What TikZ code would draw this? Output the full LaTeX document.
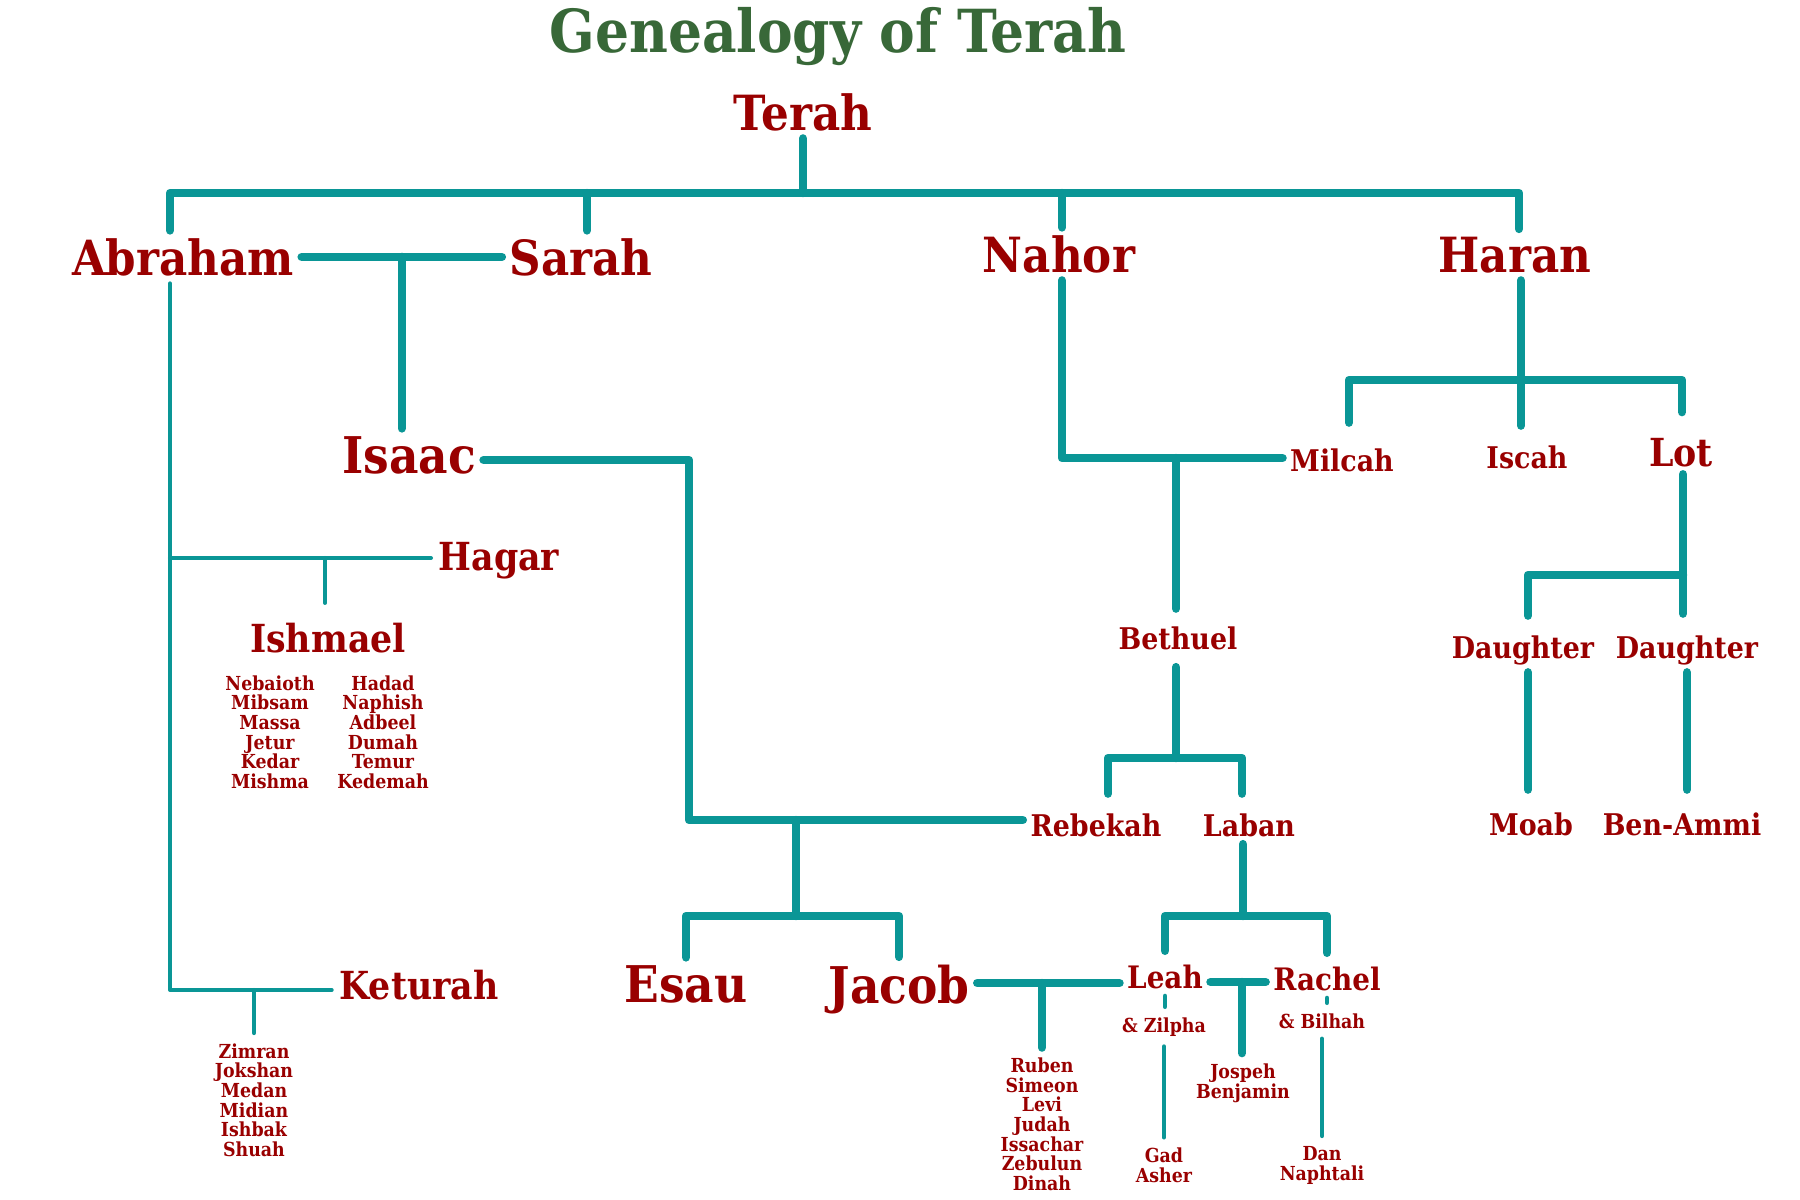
\documentclass[tikz,border=0pt]{standalone}
\usepackage{fontspec}
\newfontfamily\slabfont{DejaVu Serif}[FakeStretch=0.9]
\definecolor{treeteal}{HTML}{0A9696}
\definecolor{namered}{HTML}{990000}
\definecolor{titlegreen}{HTML}{386838}
\newcommand{\slab}[1]{\slabfont\bfseries\fontsize{#1}{1.15\dimexpr#1pt\relax}\selectfont}

\tikzset{
  who/.style={text=namered, anchor=base, inner sep=0.07cm},
  big/.style={who, font=\slab{14.4}},
  large/.style={who, font=\slab{13.8}},
  mid/.style={who, font=\slab{11}},
  kin/.style={who, font=\slab{8.5}},
  wife/.style={who, font=\slab{8.8}},
  % multi-line lists sit on the baseline of their last line
  brood/.style={who, inner sep=0.1cm, align=center,
    font=\slabfont\bfseries\fontsize{5.5}{5.55}\selectfont},
  trunk/.style={draw=treeteal, line width=2.4pt, line cap=round, line join=round},
  twig/.style={draw=treeteal, line width=1.15pt, line cap=round, line join=round},
  sprig/.style={draw=treeteal, line width=1.4pt, line cap=round, line join=round},
}

\begin{document}
\begin{tikzpicture}
  \useasboundingbox (0,0) rectangle (18,-12);

  % title and first generation
  \node[anchor=base, text=titlegreen, font=\slab{16.9}] (title) at (8.38,-0.52) {Genealogy of Terah};
  \node[large] (terah)   at (8.03,-1.30) {Terah};
  \node[large] (abraham) at (1.83,-2.75) {Abraham};
  \node[large] (sarah)   at (5.81,-2.75) {Sarah};
  \node[large] (nahor)   at (10.59,-2.72) {Nahor};
  \node[large] (haran)   at (15.15,-2.72) {Haran};

  % Abraham's line
  \node[big] (isaac)   at (4.09,-4.73) {Isaac};
  \node[mid] (hagar)   at (4.99,-5.70) {Hagar};
  \node[mid] (ishmael) at (3.28,-6.52) {Ishmael};
  \node[brood] (ishsonsa) at (2.70,-7.88) {Nebaioth\\Mibsam\\Massa\\Jetur\\Kedar\\Mishma};
  \node[brood] (ishsonsb) at (3.83,-7.88) {Hadad\\Naphish\\Adbeel\\Dumah\\Temur\\Kedemah};
  \node[mid] (keturah) at (4.19,-9.99) {Keturah};
  \node[brood] (ketsons) at (2.54,-11.56) {Zimran\\Jokshan\\Medan\\Midian\\Ishbak\\Shuah};
  \node[big] (esau)  at (6.86,-10.02) {Esau};
  \node[big] (jacob) at (8.99,-10.03) {Jacob};

  % Nahor's line
  \node[kin] (milcah)  at (13.42,-4.71) {Milcah};
  \node[kin] (bethuel) at (11.78,-6.49) {Bethuel};
  \node[kin] (rebekah) at (10.96,-8.36) {Rebekah};
  \node[kin] (laban)   at (12.49,-8.36) {Laban};
  \node[wife] (leah)   at (11.65,-9.88) {Leah};
  \node[wife] (rachel) at (13.27,-9.90) {Rachel};
  \node[brood] (leahsons) at (10.42,-11.90) {Ruben\\Simeon\\Levi\\Judah\\Issachar\\Zebulun\\Dinah};
  \node[brood] (josben)   at (12.43,-10.98) {Jospeh\\Benjamin};
  \node[brood] (zilpha)   at (11.64,-10.32) {\& Zilpha};
  \node[brood] (gadasher) at (11.64,-11.82) {Gad\\Asher};
  \node[brood] (bilhah)   at (13.22,-10.28) {\& Bilhah};
  \node[brood] (dannaph)  at (13.22,-11.80) {Dan\\Naphtali};

  % Haran's line
  \node[kin] (iscah) at (15.27,-4.68) {Iscah};
  \node[mid] (lot)   at (16.81,-4.66) {Lot};
  \node[kin] (daughtera) at (15.23,-6.58) {Daughter};
  \node[kin] (daughterb) at (16.87,-6.58) {Daughter};
  \node[kin] (moab)    at (15.31,-8.35) {Moab};
  \node[kin] (benammi) at (16.82,-8.35) {Ben-Ammi};

  % junctions
  \coordinate (top)      at (8.03,-1.93);
  \coordinate (abr-top)  at (1.70,-1.93);
  \coordinate (sar-top)  at (5.87,-1.93);
  \coordinate (nah-top)  at (10.62,-1.93);
  \coordinate (har-top)  at (15.19,-1.93);
  \coordinate (isa-cnr)  at (6.89,-4.60);
  \coordinate (isa-low)  at (6.89,-8.20);
  \coordinate (isa-reb)  at (7.96,-8.20);
  \coordinate (esa-jac)  at (7.96,-9.16);
  \coordinate (jac-lea)  at (10.42,-9.83);
  \coordinate (lea-rac)  at (12.42,-9.82);
  \coordinate (lab-kids) at (12.43,-9.16);
  \coordinate (nah-mil)  at (10.62,-4.58);
  \coordinate (bet-top)  at (11.76,-4.58);
  \coordinate (bet-kids) at (11.76,-7.58);
  \coordinate (reb-up)   at (11.08,-7.58);
  \coordinate (lab-up)   at (12.42,-7.58);
  \coordinate (har-kids) at (15.21,-3.80);
  \coordinate (mil-up)   at (13.49,-3.80);
  \coordinate (lot-up)   at (16.82,-3.80);
  \coordinate (dau-split) at (16.83,-5.75);
  \coordinate (dau-left) at (15.28,-5.75);
  \coordinate (abr-low)  at (1.70,-9.90);
  \coordinate (hag-l)    at (1.70,-5.58);
  \coordinate (ish-top)  at (3.25,-5.58);
  \coordinate (ket-top)  at (2.54,-9.90);

  % Terah's children
  \draw[trunk] (terah.south) -- (top);
  \draw[trunk] (abraham.north -| abr-top) -- (abr-top) -- (har-top) -- (haran.north -| har-top);
  \draw[trunk] (sar-top) -- (sarah.north -| sar-top);
  \draw[trunk] (nah-top) -- (nahor.north -| nah-top);

  % Abraham
  \draw[trunk] (abraham.east) -- coordinate[midway] (abr-sar) (sarah.west);
  \draw[trunk] (abr-sar) -- (abr-sar |- isaac.north);
  \draw[trunk] (isaac.east |- isa-cnr) -- (isa-cnr) -- (isa-low) -- (rebekah.west |- isa-low);
  \draw[trunk] (isa-reb) -- (esa-jac);
  \draw[trunk] (esau.north) -- (esau.north |- esa-jac) -- (jacob.north |- esa-jac) -- (jacob.north);
  \draw[twig] (abraham.south -| abr-low) -- (abr-low) -- (keturah.west |- abr-low);
  \draw[twig] (hag-l) -- (hagar.west |- hag-l);
  \draw[twig] (ish-top) -- ([yshift=0.12cm]ishmael.north -| ish-top);
  \draw[twig] (ket-top) -- (ketsons.north -| ket-top);

  % Jacob's wives
  \draw[trunk] (jacob.east |- jac-lea) -- (leah.west |- jac-lea);
  \draw[trunk] (jac-lea) -- (leahsons.north -| jac-lea);
  \draw[trunk] (leah.east |- lea-rac) -- (rachel.west |- lea-rac);
  \draw[trunk] (lea-rac) -- (josben.north -| lea-rac);
  \draw[sprig] (leah.south) -- (leah.south |- zilpha.north);
  \draw[sprig] (zilpha.south) -- (zilpha.south |- gadasher.north);
  \draw[sprig] (rachel.south) -- (rachel.south |- bilhah.north);
  \draw[sprig] (bilhah.south) -- (bilhah.south |- dannaph.north);

  % Nahor
  \draw[trunk] (nahor.south -| nah-mil) -- (nah-mil) -- (milcah.west |- nah-mil);
  \draw[trunk] (bet-top) -- ([yshift=0.1cm]bethuel.north -| bet-top);
  \draw[trunk] ([yshift=-0.1cm]bethuel.south -| bet-kids) -- (bet-kids);
  \draw[trunk] ([yshift=0.12cm]rebekah.north -| reb-up) -- (reb-up) -- (lab-up)
    -- ([yshift=0.12cm]laban.north -| lab-up);
  \draw[trunk] (laban.south -| lab-kids) -- (lab-kids);
  \draw[trunk] ([yshift=0.06cm]leah.north) -- (leah.north |- lab-kids)
    -- (rachel.north |- lab-kids) -- ([yshift=0.06cm]rachel.north);

  % Haran
  \draw[trunk] (haran.south -| har-kids) -- (har-kids);
  \draw[trunk] ([yshift=0.18cm]milcah.north -| mil-up) -- (mil-up) -- (lot-up)
    -- ([yshift=0.18cm]lot.north -| lot-up);
  \draw[trunk] (har-kids) -- ([yshift=0.12cm]iscah.north -| har-kids);
  \draw[trunk] (lot.south -| dau-split) -- ([yshift=0.14cm]daughterb.north -| dau-split);
  \draw[trunk] (dau-split) -- (dau-left) -- ([yshift=0.12cm]daughtera.north -| dau-left);
  \draw[trunk] (daughtera.south -| dau-left) -- ([yshift=0.15cm]moab.north -| dau-left);
  \draw[trunk] (daughterb.south) -- ([yshift=0.15cm]daughterb.south |- benammi.north);
\end{tikzpicture}
\end{document}
